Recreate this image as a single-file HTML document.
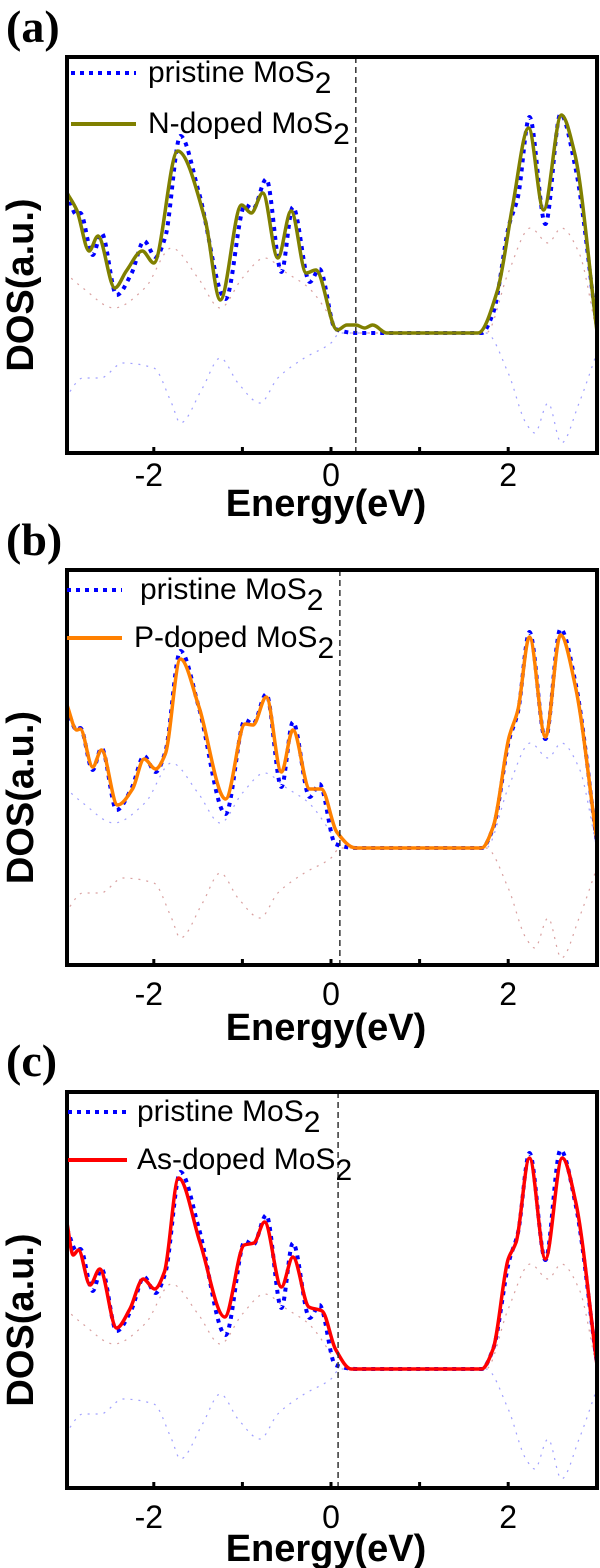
<!DOCTYPE html>
<html><head><meta charset="utf-8"><style>
html,body{margin:0;padding:0;background:#fff;width:600px;height:1568px;overflow:hidden}
svg{display:block}
</style></head><body>
<svg id="fig" width="600" height="1568" viewBox="0 0 600 1568" xmlns="http://www.w3.org/2000/svg"></svg>
<script>
// ---------- data ----------
const xTicks = [-2, 0, 2];
const minorTicks = [-1, 1];
const pristineE = [-2.98,-2.87,-2.83,-2.69,-2.59,-2.42,-2.25,-2.11,-1.98,-1.87,-1.70,-1.49,-1.19,-0.97,-0.88,-0.73,-0.56,-0.43,-0.24,-0.13,0.05,0.28,1.70,1.83,2.01,2.11,2.24,2.42,2.59,2.76,3.0];
const pristineV = [140,118,120,78,100,38,60,92,76,96,197,140,34,128,124,154,61,126,51,64,4,0,0,20,108,136,216,109,219,165,6];
const nDopedE = [-2.98,-2.87,-2.73,-2.63,-2.44,-2.31,-2.13,-2.0,-1.73,-1.42,-1.25,-1.01,-0.90,-0.77,-0.6,-0.45,-0.28,-0.17,0.07,0.18,0.28,0.38,0.47,0.63,1.66,1.88,2.05,2.23,2.4,2.6,2.75,3.0];
const nDopedV = [140,123,82,97,45,62,82,70,182,113,33,128,120,140,75,122,60,63,3,8,8,5,8,0,0,43,127,205,123,218,180,3];
const pDopedE = [-2.98,-2.87,-2.83,-2.69,-2.59,-2.41,-2.24,-2.11,-1.98,-1.87,-1.70,-1.49,-1.19,-0.97,-0.88,-0.73,-0.56,-0.43,-0.24,-0.11,0.065,0.28,1.70,1.83,2.01,2.11,2.24,2.42,2.59,2.76,3.0];
const pDopedV = [143,118,119,81,98,43,59,89,79,94,189,141,49,124,123,151,76,118,59,59,16,0,0,21,111,138,211,111,213,161,8];
const asDopedE = [-2.98,-2.91,-2.85,-2.72,-2.61,-2.42,-2.27,-2.12,-1.99,-1.88,-1.72,-1.48,-1.2,-0.98,-0.87,-0.75,-0.56,-0.43,-0.25,-0.1,0.05,0.23,1.7,1.83,2.0,2.09,2.24,2.42,2.61,2.76,3.0];
const asDopedV = [146,114,119,84,100,41,60,90,80,97,191,127,52,124,126,147,82,112,62,58,20,0,0,20,110,127,211,110,211,168,6];
const upperPdosE = [-3,-2.8,-2.45,-2.1,-1.8,-1.5,-1.25,-1.0,-0.75,-0.5,-0.25,0,0.1,1.75,2.0,2.25,2.45,2.6,2.8,3];
const upperPdosV = [60,45,25,45,85,55,25,55,75,60,45,15,0,0,60,105,90,105,80,0];
const lowerPdosE = [-3,-2.8,-2.6,-2.35,-2.0,-1.8,-1.7,-1.45,-1.25,-1.05,-0.8,-0.6,-0.3,0,0.1,1.75,2.0,2.2,2.3,2.45,2.6,2.8,3];
const lowerPdosV = [-65,-45,-45,-30,-35,-70,-90,-55,-25,-50,-70,-45,-25,-10,0,0,-40,-90,-100,-70,-110,-70,-20];
const fermiE = [0.28, 0.1, 0.08];

// ---------- layout ----------
const panels = [
  {id:'a', label:'(a)', labelY:42, top:57, bottom:453, base:333, dopedE:nDopedE, dopedV:nDopedV, color:'#808000', name:'N-doped MoS', upColor:'#c06060', lowColor:'#6060ff',
   legY1:73, legY2:124, legX1:71, legX2:136, txtX:148, txtX2:148, tickY:486, titleY:516},
  {id:'b', label:'(b)', labelY:555, top:570, bottom:965, base:848, dopedE:pDopedE, dopedV:pDopedV, color:'#ff8000', name:'P-doped MoS', upColor:'#6060ff', lowColor:'#c06060',
   legY1:590, legY2:638, legX1:67, legX2:122, txtX:140, txtX2:134, tickY:1005, titleY:1040},
  {id:'c', label:'(c)', labelY:1076, top:1092, bottom:1488, base:1369, dopedE:asDopedE, dopedV:asDopedV, color:'#ff0000', name:'As-doped MoS', upColor:'#c06060', lowColor:'#6060ff',
   legY1:1112, legY2:1160, legX1:68, legX2:127, txtX:137, txtX2:137, tickY:1528, titleY:1561}
];
const L = 67, R = 597;
const xs = e => 331 + e * 88.6;
const NS = 'http://www.w3.org/2000/svg';
const svg = document.getElementById('fig');
function mk(tag, attrs, parent){ const el = document.createElementNS(NS, tag); for (const k in attrs) el.setAttribute(k, attrs[k]); (parent||svg).appendChild(el); return el; }
// monotone cubic (Fritsch-Carlson) to avoid overshoot
function smoothPath(E, V, ys){
  const x = E.map(xs), y = V.map(ys), n = x.length;
  const d = [], m = new Array(n);
  for (let i=0;i<n-1;i++) d.push((y[i+1]-y[i])/(x[i+1]-x[i]));
  m[0]=d[0]; m[n-1]=d[n-2];
  for (let i=1;i<n-1;i++){
    if (d[i-1]*d[i] <= 0) m[i]=0;
    else { const w1=2*(x[i+1]-x[i])+(x[i]-x[i-1]), w2=(x[i+1]-x[i])+2*(x[i]-x[i-1]); m[i]=(w1+w2)/(w1/d[i-1]+w2/d[i]); }
  }
  let p = 'M'+x[0].toFixed(1)+','+y[0].toFixed(1);
  for (let i=0;i<n-1;i++){
    const h=(x[i+1]-x[i])/3;
    p += ' C'+(x[i]+h).toFixed(1)+','+(y[i]+m[i]*h).toFixed(1)+' '+(x[i+1]-h).toFixed(1)+','+(y[i+1]-m[i+1]*h).toFixed(1)+' '+x[i+1].toFixed(1)+','+y[i+1].toFixed(1);
  }
  return p;
}

panels.forEach((P, pi) => {
  const g = mk('g', {});
  
  
  const ys = v => P.base - v;
  const clipId = 'clip' + P.id;
  const cp = mk('clipPath', {id: clipId}, g);
  mk('rect', {x:L, y:P.top, width:R-L, height:P.bottom-P.top}, cp);
  const plot = mk('g', {'clip-path':'url(#'+clipId+')'}, g);

  const up = mk('path', {d: smoothPath(upperPdosE, upperPdosV, ys), fill:'none', stroke:P.upColor, 'stroke-width':1.2, 'stroke-dasharray':'2 6', opacity:0.6}, plot);
  
  
  const lo = mk('path', {d: smoothPath(lowerPdosE, lowerPdosV, ys), fill:'none', stroke:P.lowColor, 'stroke-width':1.2, 'stroke-dasharray':'2 6', opacity:0.6}, plot);
  
  

  const pr = mk('path', {d: smoothPath(pristineE, pristineV, ys), fill:'none', stroke:'#0000ff', 'stroke-width':4, 'stroke-dasharray':'4 5'}, plot);
  
  
  const dp = mk('path', {d: smoothPath(P.dopedE, P.dopedV, ys), fill:'none', stroke:P.color, 'stroke-width':3.5, 'stroke-linejoin':'round'}, plot);
  
  

  const fl = mk('line', {x1:xs(fermiE[pi]), x2:xs(fermiE[pi]), y1:P.top, y2:P.bottom, stroke:'#333', 'stroke-width':1.5, 'stroke-dasharray':'6 4'}, g);
  
  

  const box = mk('rect', {x:L, y:P.top, width:R-L, height:P.bottom-P.top, fill:'none', stroke:'#000', 'stroke-width':4}, g);
  
  

  xTicks.concat(minorTicks).forEach(t => {
    const tk = mk('line', {x1:xs(t), x2:xs(t), y1:P.bottom, y2:P.bottom-6, stroke:'#000', 'stroke-width':3}, g);
    
    
  });
  xTicks.forEach(t => {
    const tl = mk('text', {x:xs(t) - (t<0?5:0), y:P.tickY, 'text-anchor':'middle', 'font-family':'Liberation Sans, sans-serif', 'font-size':32, fill:'#000'}, g);
    tl.textContent = String(t);
    
    
  });

  const xt = mk('text', {x:326, y:P.titleY, 'text-anchor':'middle', 'font-family':'Liberation Sans, sans-serif', 'font-weight':'bold', 'font-size':38, fill:'#000'}, g);
  xt.textContent = 'Energy(eV)';
  
  

  const cy = (P.top + P.bottom) / 2 + 30;
  const yt = mk('text', {x:0, y:0, transform:'translate(33,'+cy+') rotate(-90)', 'text-anchor':'middle', 'font-family':'Liberation Sans, sans-serif', 'font-weight':'bold', 'font-size':38, fill:'#000'}, g);
  yt.textContent = 'DOS(a.u.)';
  
  

  const pl = mk('text', {x:6, y:P.labelY, 'font-family':'Liberation Serif, serif', 'font-weight':'bold', 'font-size':46, fill:'#000'}, g);
  pl.textContent = P.label;
  
  

  // legend
  const lg = mk('g', {}, g);
  
  
  const l1 = mk('line', {x1:P.legX1, x2:P.legX2, y1:P.legY1, y2:P.legY1, stroke:'#0000ff', 'stroke-width':4, 'stroke-dasharray':'4 5'}, lg);
  
  
  const t1 = mk('text', {x:P.txtX, y:P.legY1+9, 'font-family':'Liberation Sans, sans-serif', 'font-size':30, fill:'#000'}, lg);
  t1.innerHTML = 'pristine MoS<tspan dy="11" font-size="30">2</tspan>';
  
  
  const l2 = mk('line', {x1:P.legX1, x2:P.legX2, y1:P.legY2, y2:P.legY2, stroke:P.color, 'stroke-width':4}, lg);
  
  
  const t2 = mk('text', {x:P.txtX2, y:P.legY2+9, 'font-family':'Liberation Sans, sans-serif', 'font-size':30, fill:'#000'}, lg);
  t2.innerHTML = P.name + '<tspan dy="11" font-size="30">2</tspan>';
  
  
});
</script>
</body></html>
